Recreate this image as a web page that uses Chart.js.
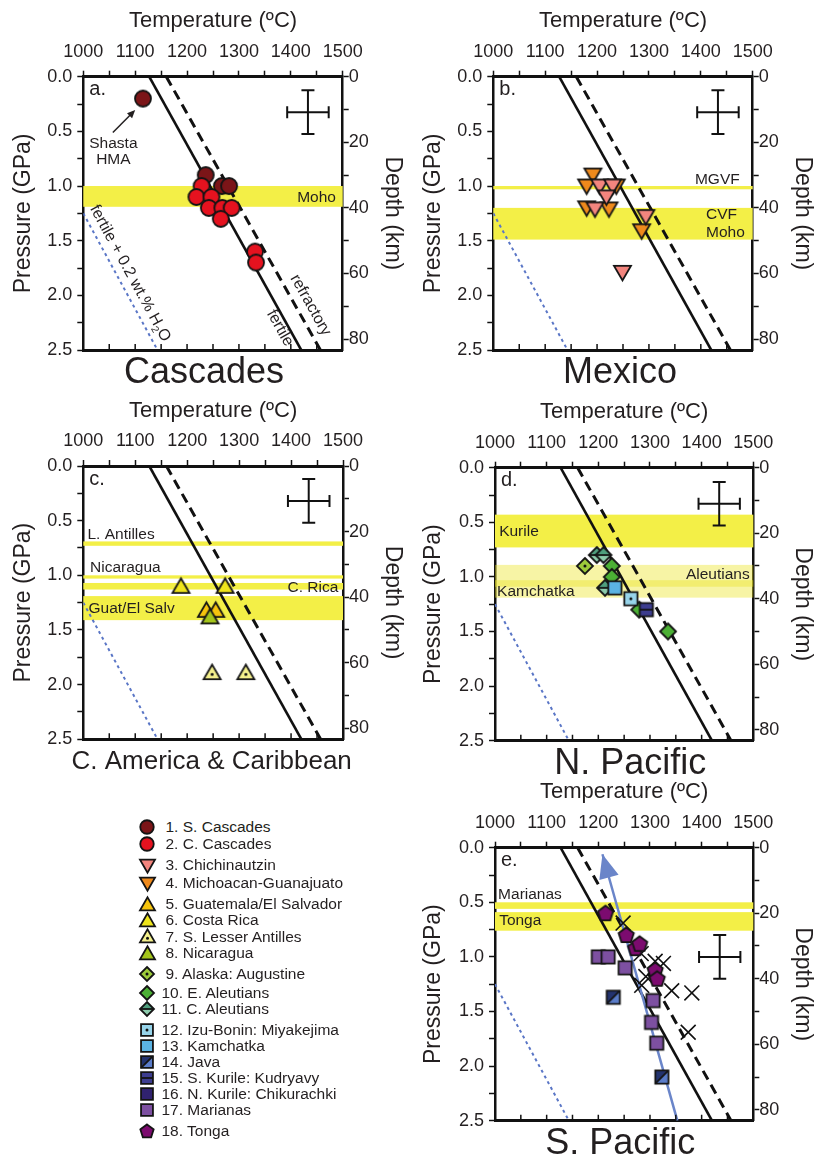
<!DOCTYPE html>
<html lang="en">
<head>
<meta charset="utf-8">
<title>Mantle melt equilibration conditions beneath arcs</title>
<script src="https://cdn.jsdelivr.net/npm/chart.js"></script>
<style>
  html, body { margin: 0; padding: 0; background: #fff; }
  body { position: relative; width: 814px; height: 1158px; overflow: hidden;
         font-family: "Liberation Sans", Arial, Helvetica, sans-serif; color: #231f20; }
  canvas.panel { position: absolute; }
  .key-row { position: absolute; height: 20px; display: flex; align-items: center;
             font-size: 15.5px; white-space: nowrap; }
  .key-mark { position: absolute; }
</style>
</head>
<body>
<canvas id="panelA" class="panel" width="404" height="390" style="left:0px;top:0px"></canvas>
<canvas id="panelB" class="panel" width="404" height="390" style="left:410px;top:0px"></canvas>
<canvas id="panelC" class="panel" width="404" height="390" style="left:0px;top:390px"></canvas>
<canvas id="panelD" class="panel" width="404" height="390" style="left:410px;top:390px"></canvas>
<canvas id="panelE" class="panel" width="404" height="378" style="left:410px;top:780px"></canvas>
<div id="key"></div>
<script>
const INK = '#231f20';
const FONT = '"Liberation Sans", Arial, Helvetica, sans-serif';
const YELLOW = '#f3ef47';
const PALE_YELLOW = 'rgba(236,228,40,0.42)';

// ---- axis tick labels ----
const temperatureLabels = [1000, 1100, 1200, 1300, 1400, 1500];
const pressureLabels = [0.0, 0.5, 1.0, 1.5, 2.0, 2.5];
const depthLabels = [0, 20, 40, 60, 80];
const KM_PER_GPA = 33.333;

// ---- peridotite solidi (T ºC, P GPa) ----
const fertileSolidusT = [1127, 1420];
const fertileSolidusP = [0, 2.5];
const refractorySolidusT = [1160, 1457];
const refractorySolidusP = [0, 2.5];
const wetSolidusT = [1000, 1143];
const wetSolidusP = [1.25, 2.5];

// ---- typical uncertainty (± ºC, ± GPa) ----
const errorT = 40;
const errorP = 0.2;

// ---- Moho depth ranges (GPa) ----
const cascadesMohoP = [1.0, 1.19];
const mgvfMohoP = [1.0, 1.03];
const cvfMohoP = [1.2, 1.49];
const lesserAntillesMohoP = [0.69, 0.73];
const nicaraguaMohoP = [1.0, 1.03];
const costaRicaMohoP = [1.07, 1.13];
const guatElSalvMohoP = [1.19, 1.41];
const kurileMohoP = [0.43, 0.73];
const aleutiansMohoP = [0.89, 1.09];
const kamchatkaMohoP = [1.03, 1.19];
const marianasMohoP = [0.5, 0.56];
const tongaMohoP = [0.59, 0.76];

// ---- melt equilibration conditions ----
const sCascadesT = [1115, 1236, 1267, 1281];
const sCascadesP = [0.20, 0.90, 1.00, 1.00];
const cCascadesT = [1228, 1218, 1247, 1242, 1268, 1286, 1265, 1331, 1333];
const cCascadesP = [1.00, 1.10, 1.10, 1.20, 1.20, 1.20, 1.30, 1.60, 1.70];
const michoacanT = [1192, 1180, 1237, 1180, 1223, 1286];
const michoacanP = [0.90, 1.00, 1.00, 1.20, 1.21, 1.41];
const chichinautzinT = [1205, 1230, 1218, 1196, 1294, 1249];
const chichinautzinP = [1.00, 1.00, 1.10, 1.21, 1.28, 1.79];
const costaRicaT = [1188, 1273];
const costaRicaP = [1.10, 1.10];
const guatElSalvT = [1237, 1255];
const guatElSalvP = [1.32, 1.32];
const nicaraguaT = [1244];
const nicaraguaP = [1.38];
const lesserAntillesT = [1248, 1313];
const lesserAntillesP = [1.89, 1.89];
const augustineT = [1174];
const augustineP = [0.90];
const cAleutiansT = [1197, 1210, 1213];
const cAleutiansP = [0.80, 0.80, 1.10];
const eAleutiansT = [1226, 1226, 1279, 1335];
const eAleutiansP = [0.90, 1.00, 1.30, 1.50];
const miyakejimaT = [1263];
const miyakejimaP = [1.20];
const kamchatkaT = [1232];
const kamchatkaP = [1.10];
const kudryavyT = [1293];
const kudryavyP = [1.30];
const marianasT = [1200, 1219, 1252, 1306, 1303, 1313];
const marianasP = [1.00, 1.00, 1.10, 1.40, 1.60, 1.79];
const javaT = [1229, 1323];
const javaP = [1.37, 2.10];
const crossT = [1248, 1283, 1310, 1326, 1292, 1284, 1342, 1381, 1374];
const crossP = [0.69, 0.97, 1.04, 1.06, 1.18, 1.26, 1.31, 1.33, 1.69];
const tongaT = [1214, 1254, 1272, 1280, 1310, 1314];
const tongaP = [0.60, 0.80, 0.92, 0.88, 1.12, 1.20];
const ascentPathT = [1353, 1208];
const ascentPathP = [2.50, 0.06];
const shastaPointerT = [1057, 1100];
const shastaPointerP = [0.51, 0.305];

// ---- symbol styles ----
const MARKERS = {
  sCascades:      { shape: 'circle',   fill: '#7b1518' },
  cCascades:      { shape: 'circle',   fill: '#e5121f' },
  chichinautzin:  { shape: 'triDown',  fill: '#f3857e' },
  michoacan:      { shape: 'triDown',  fill: '#ef8a1c' },
  guatElSalv:     { shape: 'triUp',    fill: '#f6c40c' },
  costaRica:      { shape: 'triUp',    fill: '#efe51c' },
  lesserAntilles: { shape: 'triUp',    fill: '#f4f08c', mark: 'dot' },
  nicaragua:      { shape: 'triUp',    fill: '#a4c51b' },
  augustine:      { shape: 'diamond',  fill: '#9dcb3b', mark: 'dot' },
  eAleutians:     { shape: 'diamond',  fill: '#4cb035' },
  cAleutians:     { shape: 'diamond',  fill: '#4f9f7e', fill2: '#8ccbac', mark: 'half' },
  miyakejima:     { shape: 'square',   fill: '#97d4ea', mark: 'dot' },
  kamchatka:      { shape: 'square',   fill: '#5bb3e3' },
  java:           { shape: 'square',   fill: '#23336f', fill2: '#5a7cc9', mark: 'diag' },
  kudryavy:       { shape: 'square',   fill: '#3d3d8f', mark: 'stripe' },
  chikurachki:    { shape: 'square',   fill: '#30226f' },
  marianas:       { shape: 'square',   fill: '#7d50a1' },
  tonga:          { shape: 'pentagon', fill: '#7c0b6f' }
};

const legendEntries = [
  ['1. S. Cascades', 'sCascades'], ['2. C. Cascades', 'cCascades'],
  ['3. Chichinautzin', 'chichinautzin'], ['4. Michoacan-Guanajuato', 'michoacan'],
  ['5. Guatemala/El Salvador', 'guatElSalv'], ['6. Costa Rica', 'costaRica'],
  ['7. S. Lesser Antilles', 'lesserAntilles'], ['8. Nicaragua', 'nicaragua'],
  ['9. Alaska: Augustine', 'augustine'], ['10. E. Aleutians', 'eAleutians'],
  ['11. C. Aleutians', 'cAleutians'], ['12. Izu-Bonin: Miyakejima', 'miyakejima'],
  ['13. Kamchatka', 'kamchatka'], ['14. Java', 'java'],
  ['15. S. Kurile: Kudryavy', 'kudryavy'], ['16. N. Kurile: Chikurachki', 'chikurachki'],
  ['17. Marianas', 'marianas'], ['18. Tonga', 'tonga']
];
const legendRowY = [827.3, 844, 865, 883.3, 904.3, 920, 936.7, 953.3, 974.3, 992.7,
                    1009.3, 1030, 1046, 1061.7, 1077.7, 1094.3, 1110, 1130.7];

// ---- symbol painter ----
function makeMarker(style, size) {
  const pad = 3;
  const dim = Math.ceil(size + pad * 2);
  const c = document.createElement('canvas');
  c.width = dim; c.height = dim;
  const g = c.getContext('2d');
  const cx = dim / 2, cy = dim / 2, r = size / 2;
  g.lineWidth = 1.8;
  g.strokeStyle = '#141414';
  g.lineJoin = 'miter';
  const poly = pts => { g.beginPath(); pts.forEach((p, i) => i ? g.lineTo(p[0], p[1]) : g.moveTo(p[0], p[1])); g.closePath(); };
  let outline, dotY = cy;
  const s = r * 0.85;
  switch (style.shape) {
    case 'circle': outline = () => { g.beginPath(); g.arc(cx, cy, r, 0, Math.PI * 2); }; break;
    case 'triDown': outline = () => poly([[cx - r, cy - 0.78 * r], [cx + r, cy - 0.78 * r], [cx, cy + 0.95 * r]]); break;
    case 'triUp': outline = () => poly([[cx - r, cy + 0.78 * r], [cx + r, cy + 0.78 * r], [cx, cy - 0.95 * r]]); dotY = cy + 0.22 * r; break;
    case 'diamond': outline = () => poly([[cx, cy - r], [cx + r, cy], [cx, cy + r], [cx - r, cy]]); break;
    case 'square': outline = () => poly([[cx - s, cy - s], [cx + s, cy - s], [cx + s, cy + s], [cx - s, cy + s]]); break;
    case 'pentagon': {
      const pts = [];
      for (let k = 0; k < 5; k++) { const a = -Math.PI / 2 + k * 2 * Math.PI / 5; pts.push([cx + r * Math.cos(a), cy + r * 1.02 * Math.sin(a) + 0.6]); }
      outline = () => poly(pts); break;
    }
  }
  outline(); g.fillStyle = style.fill; g.fill();
  if (style.mark === 'half') {
    g.fillStyle = style.fill2;
    poly([[cx - r, cy], [cx + r, cy], [cx, cy + r]]); g.fill();
    g.beginPath(); g.moveTo(cx - r, cy); g.lineTo(cx + r, cy); g.stroke();
  } else if (style.mark === 'diag') {
    g.fillStyle = style.fill2;
    poly([[cx + s, cy - s], [cx + s, cy + s], [cx - s, cy + s]]); g.fill();
    g.beginPath(); g.moveTo(cx - s, cy + s); g.lineTo(cx + s, cy - s); g.stroke();
  } else if (style.mark === 'stripe') {
    g.beginPath(); g.moveTo(cx - s, cy); g.lineTo(cx + s, cy); g.stroke();
  } else if (style.mark === 'dot') {
    g.fillStyle = '#111'; g.beginPath(); g.arc(cx, dotY, 1.5, 0, Math.PI * 2); g.fill();
  }
  outline(); g.stroke();
  return c;
}
const SIZES = { circle: 16, triDown: 17, triUp: 17, diamond: 16, square: 15.5, pentagon: 16 };
const KEY_SIZES = { circle: 13.5, triDown: 15, triUp: 15, diamond: 14, square: 14, pentagon: 14 };

// ---- drawing helpers ----
function arrowTo(ctx, x0, y0, x1, y1, len, half, lw, color) {
  const d = Math.hypot(x1 - x0, y1 - y0), ux = (x1 - x0) / d, uy = (y1 - y0) / d;
  const bx = x1 - ux * len, by = y1 - uy * len;
  ctx.save();
  ctx.strokeStyle = color; ctx.fillStyle = color; ctx.lineWidth = lw;
  ctx.beginPath(); ctx.moveTo(x0, y0); ctx.lineTo(bx + ux, by + uy); ctx.stroke();
  ctx.beginPath(); ctx.moveTo(x1, y1);
  ctx.lineTo(bx - uy * half, by + ux * half); ctx.lineTo(bx + uy * half, by - ux * half);
  ctx.closePath(); ctx.fill();
  ctx.restore();
}

function alongLine(chart, lineT, lineP, at, parts, size) {
  const { ctx, scales: { x, y } } = chart;
  const ang = Math.atan2(y.getPixelForValue(lineP[1]) - y.getPixelForValue(lineP[0]),
                         x.getPixelForValue(lineT[1]) - x.getPixelForValue(lineT[0]));
  ctx.save();
  ctx.translate(x.getPixelForValue(at[0]), y.getPixelForValue(at[1]));
  ctx.rotate(ang);
  ctx.fillStyle = INK; ctx.textBaseline = 'middle'; ctx.textAlign = 'left';
  const fontOf = pt => `${pt.sub ? size * 0.65 : size}px ${FONT}`;
  let total = 0;
  parts.forEach(pt => { ctx.font = fontOf(pt); total += ctx.measureText(pt.t).width; });
  let px = -total / 2;
  parts.forEach(pt => { ctx.font = fontOf(pt); ctx.fillText(pt.t, px, pt.sub ? size * 0.32 : 0); px += ctx.measureText(pt.t).width; });
  ctx.restore();
}

// annotations of the Cascades panel
const shastaLabelAt = [1058, 0.61, 0.755];
function cascadesNotes(chart) {
  const { ctx, scales: { x, y } } = chart;
  ctx.save();
  ctx.fillStyle = INK; ctx.font = `15.5px ${FONT}`;
  ctx.textAlign = 'center'; ctx.textBaseline = 'middle';
  ctx.fillText('Shasta', x.getPixelForValue(shastaLabelAt[0]), y.getPixelForValue(shastaLabelAt[1]));
  ctx.fillText('HMA', x.getPixelForValue(shastaLabelAt[0]), y.getPixelForValue(shastaLabelAt[2]));
  ctx.restore();
  arrowTo(ctx, x.getPixelForValue(shastaPointerT[0]), y.getPixelForValue(shastaPointerP[0]),
          x.getPixelForValue(shastaPointerT[1]), y.getPixelForValue(shastaPointerP[1]), 8, 3.6, 1.5, INK);
  alongLine(chart, wetSolidusT, wetSolidusP, [1090, 1.80],
            [{ t: 'fertile + 0.2 wt.% H' }, { t: '2', sub: true }, { t: 'O' }], 16);
  alongLine(chart, fertileSolidusT, fertileSolidusP, [1379, 2.30], [{ t: 'fertile' }], 16);
  alongLine(chart, refractorySolidusT, refractorySolidusP, [1438, 2.09], [{ t: 'refractory' }], 16);
}

// arrowhead of the ascent path in the S. Pacific panel
function southPacificNotes(chart) {
  const { ctx, scales: { x, y } } = chart;
  const x0 = x.getPixelForValue(ascentPathT[0]), y0 = y.getPixelForValue(ascentPathP[0]);
  const x1 = x.getPixelForValue(ascentPathT[1]), y1 = y.getPixelForValue(ascentPathP[1]);
  const d = Math.hypot(x1 - x0, y1 - y0), ux = (x1 - x0) / d, uy = (y1 - y0) / d;
  const len = 24, half = 10, bx = x1 - ux * len, by = y1 - uy * len;
  ctx.save();
  ctx.fillStyle = '#6a85c9';
  ctx.beginPath(); ctx.moveTo(x1, y1);
  ctx.lineTo(bx - uy * half, by + ux * half); ctx.lineTo(bx + uy * half, by - ux * half);
  ctx.closePath(); ctx.fill();
  ctx.restore();
}

// ---- panel layout ----
const panels = [
  { canvas: 'panelA', w: 404, h: 390, area: { left: 83.3, right: 342.7, top: 76.7, bottom: 350 },
    letter: 'a.', region: 'Cascades', regionSize: 36, regionDx: -9, errAt: [1433, 0.325],
    bands: [{ range: cascadesMohoP, color: YELLOW }],
    bandLabels: [{ text: 'Moho', t: 1487, p: 1.105, align: 'right' }],
    series: [['sCascades', sCascadesT, sCascadesP], ['cCascades', cCascadesT, cCascadesP]],
    notes: cascadesNotes },
  { canvas: 'panelB', w: 404, h: 390, area: { left: 83.3, right: 342.7, top: 76.7, bottom: 350 },
    letter: 'b.', region: 'Mexico', regionSize: 36, regionDx: -3, errAt: [1433, 0.325],
    bands: [{ range: mgvfMohoP, color: YELLOW }, { range: cvfMohoP, color: YELLOW }],
    bandLabels: [{ text: 'MGVF', t: 1475, p: 0.945, align: 'right' },
                 { text: 'CVF', t: 1410, p: 1.26, align: 'left' },
                 { text: 'Moho', t: 1410, p: 1.43, align: 'left' }],
    series: [['michoacan', michoacanT, michoacanP], ['chichinautzin', chichinautzinT, chichinautzinP]] },
  { canvas: 'panelC', w: 404, h: 390, area: { left: 83.3, right: 343, top: 76, bottom: 349.3 },
    letter: 'c.', region: 'C. America & Caribbean', regionSize: 26, regionDx: -1.5, errAt: [1434, 0.32],
    bands: [{ range: lesserAntillesMohoP, color: YELLOW }, { range: nicaraguaMohoP, color: YELLOW },
            { range: costaRicaMohoP, color: YELLOW }, { range: guatElSalvMohoP, color: YELLOW }],
    bandLabels: [{ text: 'L. Antilles', t: 1008, p: 0.63, align: 'left' },
                 { text: 'Nicaragua', t: 1013, p: 0.935, align: 'left' },
                 { text: 'C. Rica', t: 1491, p: 1.11, align: 'right' },
                 { text: 'Guat/El Salv', t: 1010, p: 1.31, align: 'left' }],
    series: [['costaRica', costaRicaT, costaRicaP], ['guatElSalv', guatElSalvT, guatElSalvP],
             ['nicaragua', nicaraguaT, nicaraguaP], ['lesserAntilles', lesserAntillesT, lesserAntillesP]] },
  { canvas: 'panelD', w: 404, h: 390, area: { left: 85, right: 343.3, top: 77.7, bottom: 350.7 },
    letter: 'd.', region: 'N. Pacific', regionSize: 36, regionDx: 6, errAt: [1434, 0.33],
    bands: [{ range: kurileMohoP, color: YELLOW }, { range: aleutiansMohoP, color: PALE_YELLOW },
            { range: kamchatkaMohoP, color: PALE_YELLOW }],
    bandLabels: [{ text: 'Kurile', t: 1008, p: 0.59, align: 'left' },
                 { text: 'Aleutians', t: 1493, p: 0.976, align: 'right' },
                 { text: 'Kamchatka', t: 1004, p: 1.14, align: 'left' }],
    series: [['augustine', augustineT, augustineP], ['cAleutians', cAleutiansT, cAleutiansP],
             ['eAleutians', eAleutiansT, eAleutiansP], ['miyakejima', miyakejimaT, miyakejimaP],
             ['kamchatka', kamchatkaT, kamchatkaP], ['kudryavy', kudryavyT, kudryavyP]] },
  { canvas: 'panelE', w: 404, h: 378, area: { left: 85, right: 343.3, top: 67.7, bottom: 340.7 },
    letter: 'e.', region: 'S. Pacific', regionSize: 36, regionDx: -4, errAt: [1435, 1.0],
    bands: [{ range: marianasMohoP, color: YELLOW }, { range: tongaMohoP, color: YELLOW }],
    bandLabels: [{ text: 'Marianas', t: 1006, p: 0.433, align: 'left' },
                 { text: 'Tonga', t: 1008, p: 0.67, align: 'left' }],
    series: [['marianas', marianasT, marianasP], ['java', javaT, javaP],
             ['cross', crossT, crossP], ['tonga', tongaT, tongaP]],
    path: true, notes: southPacificNotes }
];

const pts = (T, P) => T.map((t, i) => ({ x: t, y: P[i] }));
const near = (list, v) => list.some(q => Math.abs(q - v) < 1e-6);

function decorations(p) {
  return {
    id: 'decor',
    beforeDatasetsDraw(chart) {
      const { ctx, chartArea: a, scales: { x, y } } = chart;
      ctx.save();
      p.bands.forEach(b => {
        const top = y.getPixelForValue(b.range[0]), bot = y.getPixelForValue(b.range[1]);
        ctx.fillStyle = b.color;
        ctx.fillRect(a.left, top, a.right - a.left, bot - top);
      });
      ctx.fillStyle = INK; ctx.font = `15.5px ${FONT}`; ctx.textBaseline = 'middle';
      p.bandLabels.forEach(l => {
        ctx.textAlign = l.align;
        ctx.fillText(l.text, x.getPixelForValue(l.t), y.getPixelForValue(l.p));
      });
      ctx.restore();
    },
    afterDatasetsDraw(chart) { if (p.notes) p.notes(chart); },
    afterDraw(chart) {
      const { ctx, chartArea: a, scales: { x } } = chart;
      ctx.save();
      ctx.strokeStyle = '#111'; ctx.lineWidth = 1.5;
      ctx.beginPath();
      x.ticks.forEach(t => {
        if (t.value <= x.min || t.value >= x.max) return;
        const px = x.getPixelForValue(t.value);
        ctx.moveTo(px, a.bottom); ctx.lineTo(px, a.bottom - 6);
      });
      ctx.stroke();
      ctx.fillStyle = INK; ctx.textBaseline = 'middle'; ctx.textAlign = 'left';
      ctx.font = `20px ${FONT}`;
      ctx.fillText(p.letter, a.left + 6, a.top + 13);
      ctx.font = `${p.regionSize}px ${FONT}`; ctx.textAlign = 'center';
      ctx.fillText(p.region, (a.left + a.right) / 2 + p.regionDx, a.bottom + 23);
      ctx.restore();
    }
  };
}

function buildPanel(p) {
  const A = p.area;
  const seq = [];
  const lineSet = (T, P, extra) => Object.assign({ data: pts(T, P), showLine: true, pointRadius: 0, fill: false,
                                                    borderCapStyle: 'butt' }, extra);
  seq.push(lineSet(wetSolidusT, wetSolidusP, { borderColor: '#5a76c6', borderWidth: 2, borderDash: [3, 3.5] }));
  seq.push(lineSet(fertileSolidusT, fertileSolidusP, { borderColor: '#111', borderWidth: 2.6 }));
  seq.push(lineSet(refractorySolidusT, refractorySolidusP, { borderColor: '#111', borderWidth: 3, borderDash: [10, 6] }));
  if (p.path) seq.push(lineSet(ascentPathT, ascentPathP, { borderColor: '#6a85c9', borderWidth: 2.5 }));
  // uncertainty cross
  const [eT, eP] = p.errAt;
  seq.push({ data: [{ x: eT - errorT, y: eP }, { x: eT + errorT, y: eP }], showLine: true, borderColor: '#111',
             borderWidth: 2, pointStyle: 'line', rotation: 90, pointRadius: 6, pointBorderColor: '#111', pointBorderWidth: 2 });
  seq.push({ data: [{ x: eT, y: eP - errorP }, { x: eT, y: eP + errorP }], showLine: true, borderColor: '#111',
             borderWidth: 2, pointStyle: 'line', rotation: 0, pointRadius: 6.5, pointBorderColor: '#111', pointBorderWidth: 2 });
  p.series.forEach(([key, T, P]) => {
    if (key === 'cross') {
      seq.push({ label: key, data: pts(T, P), showLine: false, pointStyle: 'crossRot', pointRadius: 10.5,
                 pointBorderColor: '#111', pointBorderWidth: 1.6 });
    } else {
      const st = MARKERS[key];
      seq.push({ label: key, data: pts(T, P), showLine: false, pointStyle: makeMarker(st, SIZES[st.shape]), pointRadius: 8 });
    }
  });
  seq.forEach((d, i) => { d.order = seq.length - i; });

  const tickGrid = { drawOnChartArea: false, drawTicks: true, tickLength: 6, tickWidth: 1.5, tickColor: '#111' };
  new Chart(document.getElementById(p.canvas), {
    type: 'scatter',
    data: { datasets: seq },
    options: {
      responsive: false, animation: false, events: [],
      layout: { padding: 0, autoPadding: false },
      plugins: { legend: { display: false }, tooltip: { enabled: false }, title: { display: false } },
      scales: {
        x: { type: 'linear', position: 'top', min: 1000, max: 1500,
             border: { display: true, color: '#111', width: 3 }, grid: tickGrid,
             ticks: { stepSize: 50, autoSkip: false, maxRotation: 0, padding: 8, color: INK, font: { size: 18 },
                      callback: v => near(temperatureLabels, v) ? String(v) : '' },
             title: { display: true, text: 'Temperature (ºC)', color: INK, font: { size: 22, lineHeight: 1 },
                      padding: { top: A.top - 55.5 - 11, bottom: 0 } },
             afterFit: s => { s.height = A.top; } },
        x2: { type: 'linear', position: 'bottom', min: 1000, max: 1500,
              border: { display: true, color: '#111', width: 3 }, grid: { display: false }, ticks: { display: false },
              afterFit: s => { s.height = p.h - A.bottom; } },
        y: { type: 'linear', position: 'left', reverse: true, min: 0, max: 2.5,
             border: { display: true, color: '#111', width: 2.5 }, grid: tickGrid,
             ticks: { stepSize: 0.25, autoSkip: false, padding: 5, color: INK, font: { size: 18 },
                      callback: v => near(pressureLabels, v) ? Number(v).toFixed(1) : '' },
             title: { display: true, text: 'Pressure (GPa)', color: INK, font: { size: 23, lineHeight: 1 },
                      padding: { top: 11.8, bottom: 0 } },
             afterFit: s => { s.width = A.left; } },
        y2: { type: 'linear', position: 'right', reverse: true, min: 0, max: 2.5 * KM_PER_GPA,
              border: { display: true, color: '#111', width: 2.5 }, grid: tickGrid,
              ticks: { stepSize: 10, autoSkip: false, includeBounds: false, padding: 0, color: INK, font: { size: 18 },
                       callback: v => near(depthLabels, v) ? String(v) : '' },
              title: { display: true, text: 'Depth (km)', color: INK, font: { size: 23, lineHeight: 1 },
                       padding: { top: 0, bottom: 0 } },
              afterFit: s => { s.width = p.w - A.right; } }
      }
    },
    plugins: [decorations(p)]
  });
}

Chart.defaults.font.family = FONT;
Chart.defaults.color = INK;
panels.forEach(buildPanel);

// ---- symbol key ----
const key = document.getElementById('key');
legendEntries.forEach(([text, style], i) => {
  const y = legendRowY[i];
  const st = MARKERS[style];
  const mark = makeMarker(st, KEY_SIZES[st.shape]);
  mark.className = 'key-mark';
  mark.style.left = (147 - mark.width / 2) + 'px';
  mark.style.top = (y - mark.height / 2) + 'px';
  key.appendChild(mark);
  const row = document.createElement('div');
  row.className = 'key-row';
  row.style.left = (i < 9 ? 165.5 : 161.5) + 'px';
  row.style.top = (y - 10) + 'px';
  row.textContent = text;
  key.appendChild(row);
});
</script>
</body>
</html>
